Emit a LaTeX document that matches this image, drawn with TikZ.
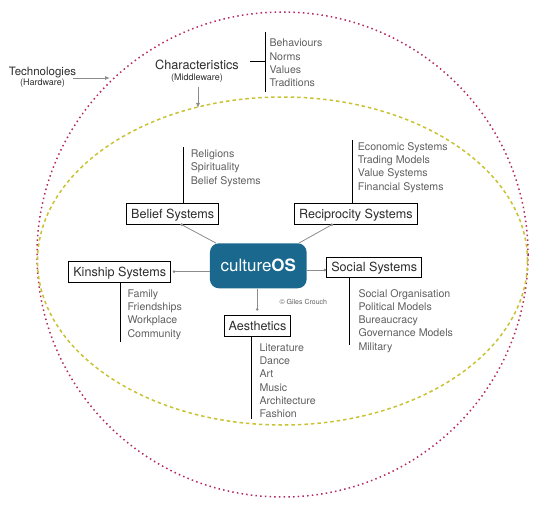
\documentclass[tikz,border=0pt]{standalone}
\usepackage{fontspec}
\setmainfont{TeX Gyre Heros}
\usetikzlibrary{arrows.meta}
\definecolor{outerc}{RGB}{180,40,100}
\definecolor{innerc}{RGB}{201,194,50}
\definecolor{osblue}{RGB}{26,104,142}
\definecolor{itemc}{RGB}{95,95,95}
\definecolor{labc}{RGB}{45,45,45}
\definecolor{connc}{RGB}{140,140,140}
\begin{document}
\begin{tikzpicture}[x=1pt,y=-1pt,
  sysbox/.style={draw=black,line width=0.9pt,fill=white,font=\fontsize{12.6}{14}\selectfont,text=labc,inner xsep=4.5pt,inner ysep=0pt,text height=9pt,text depth=0pt,minimum height=20.5pt},
  items/.style={font=\fontsize{10.6}{13.3}\selectfont,text=itemc,align=left,anchor=north west,inner sep=0pt},
  bar/.style={draw=black,line width=1pt},
  conn/.style={draw=connc,line width=0.8pt},
  cdot/.style={fill=connc},
  garrow/.style={draw=connc,line width=0.9pt,-{Latex[length=5pt,width=4pt]}},
  toplab/.style={anchor=base,inner sep=0pt,text=labc}]

\useasboundingbox (0,0) rectangle (540,508);

% ellipses
\draw[outerc,line width=1.5pt,dash pattern=on 1.5pt off 3.2pt] (282.5,254.5) ellipse [x radius=245.5,y radius=242.5];
\draw[innerc,line width=1.5pt,dash pattern=on 3.5pt off 3pt] (282.5,261) ellipse [x radius=245,y radius=164];

% top labels
\node[toplab,font=\fontsize{11.5}{12}\selectfont] (tech) at (42.5,75.5) {Technologies};
\node[toplab,font=\fontsize{9}{10}\selectfont] (hw) at (42.5,86) {(Hardware)};
\node[toplab,font=\fontsize{12.7}{13}\selectfont] (char) at (197,69.5) {Characteristics};
\node[toplab,font=\fontsize{9}{10}\selectfont] (mw) at (197,81) {(Middleware)};
\node[items] (charitems) at (269.3,38.9) {Behaviours\\Norms\\Values\\Traditions};

\coordinate (cTop) at (265,32);
\coordinate (cBot) at (265,92);
\coordinate (cJ) at (265,62);
\draw[bar] (cTop) -- (cBot);
\draw[bar] ([xshift=11pt]char.east |- cJ) -- (cJ);

\coordinate (tArr) at (73,78);
\coordinate (tHit) at (110,78);
\draw[garrow] (tArr) -- (tHit);
\coordinate (mArr) at (198,87);
\coordinate (mHit) at (198,108);
\draw[garrow] (mArr) -- (mHit);

% centre
\node[fill=osblue,rounded corners=9pt,minimum width=96.7pt,minimum height=45pt,text=white,font=\fontsize{17}{18}\selectfont,inner sep=0pt] (culture) at (258.3,265.8) {culture\textbf{OS}};
\node[font=\fontsize{7}{8}\selectfont,text=itemc,anchor=west,inner sep=0pt] (copy) at (279.3,301.7) {\textcopyright{} Giles Crouch};

% boxes
\node[sysbox] (belief) at (172.7,214) {Belief Systems};
\node[sysbox] (recip) at (355.8,214) {Reciprocity Systems};
\node[sysbox] (kin) at (119.7,271.7) {Kinship Systems};
\node[sysbox] (social) at (374.2,267.2) {Social Systems};
\node[sysbox] (aes) at (257.5,326) {Aesthetics};

% item lists
\node[items] (beliefitems) at (190.7,149.5) {Religions\\Spirituality\\Belief Systems};
\node[items] (recipitems) at (357.7,142.2) {Economic Systems\\Trading Models\\Value Systems\\Financial Systems};
\node[items] (kinitems) at (127.3,289.2) {Family\\Friendships\\Workplace\\Community};
\node[items] (socialitems) at (358.3,288.9) {Social Organisation\\Political Models\\Bureaucracy\\Governance Models\\Military};
\node[items] (aesitems) at (259.3,343.2) {Literature\\Dance\\Art\\Music\\Architecture\\Fashion};

% black bars
\coordinate (bTop) at (183,147);
\draw[bar] (bTop |- belief.north) -- (bTop);
\coordinate (rTop) at (352.3,140);
\draw[bar] (rTop |- recip.north) -- (rTop);
\coordinate (kBot) at (120,342);
\draw[bar] (kBot |- kin.south) -- (kBot);
\coordinate (sBot) at (349,345);
\draw[bar] (sBot |- social.south) -- (sBot);
\coordinate (aBot) at (251.5,419);
\draw[bar] (aBot |- aes.south) -- (aBot);

% connectors
\coordinate (bdot) at ([xshift=9pt]belief.south);
\draw[conn] (bdot) -- (culture);
\fill[cdot] (bdot) circle (1.5pt);
\coordinate (rdot) at ([xshift=-24pt]recip.south);
\draw[conn] (rdot) -- (culture);
\fill[cdot] (rdot) circle (1.5pt);
\coordinate (kdot) at ([xshift=3pt]kin.east);
\draw[conn] (kdot) -- (kdot -| culture.west);
\fill[cdot] (kdot) circle (1.5pt);
\path (social.west) ++(-1.5,2.8) coordinate (sdot);
\draw[conn] (sdot -| culture.east) -- (sdot);
\fill[cdot] (sdot) circle (1.5pt);
\path (aes.north) ++(-0.3,-6) coordinate (adot);
\draw[conn] (adot |- culture.south) -- (adot);
\fill[cdot] (adot) circle (1.5pt);
\end{tikzpicture}
\end{document}
